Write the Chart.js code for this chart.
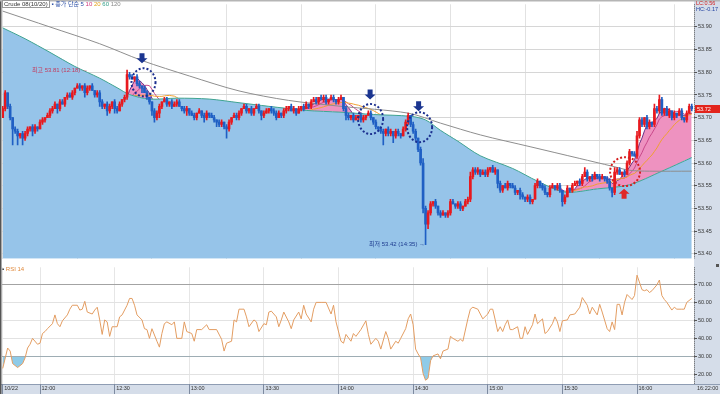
<!DOCTYPE html>
<html>
<head>
<meta charset="utf-8">
<script src="https://cdn.jsdelivr.net/npm/chart.js@4.4.0/dist/chart.umd.min.js"></script>
<style>
html,body{margin:0;padding:0;background:#fff;}
#wrap{position:relative;width:720px;height:394px;overflow:hidden;background:#fff;}
canvas{position:absolute;left:0;}
#cp{top:0;}
#cr{top:263px;}
.t{position:absolute;white-space:nowrap;font-family:"Liberation Sans","Noto Sans CJK KR",sans-serif;line-height:1;}
</style>
</head>
<body>
<div id="wrap">
<canvas id="cp" width="720" height="263"></canvas>
<canvas id="cr" width="720" height="131"></canvas>
<div class="t" style="left:2px;top:1px;font-size:6px;color:#333;">
<span style="border:1px solid #9a9a9a;padding:0 1px;background:#fff;">Crude 08(10/20)</span>
<span style="color:#2b4fa6;">&#9642; 종가 단순</span>
<span style="color:#2b4fa6;">5</span>
<span style="color:#d0357c;">10</span>
<span style="color:#e3a21a;">20</span>
<span style="color:#2f9e86;">60</span>
<span style="color:#8a8a8a;">120</span>
</div>
<div class="t" style="left:696px;top:1px;font-size:5.5px;color:#d02020;">LC:0.56</div>
<div class="t" style="left:696px;top:7px;font-size:5.5px;color:#2040a0;">HC:-0.17</div>
<div class="t" id="tag" style="left:695px;width:25px;height:8px;background:#e2241c;color:#fff;font-size:5.5px;line-height:8px;padding-left:2px;box-sizing:border-box;">53.72</div>
<div class="t" id="hiNote" style="font-size:6px;color:#c23a5c;">최고 53.81 (12:18) →</div>
<div class="t" id="loNote" style="font-size:6px;color:#1c3a8e;">최저 53.42 (14:35) →</div>
<div class="t" style="left:2px;top:266px;font-size:6px;color:#e0893c;"><span style="color:#444;">&#9642;</span> RSI 14</div>
<div class="t" style="left:697px;top:386px;font-size:5.5px;color:#333;">16:22:00</div>
<div style="position:absolute;left:716px;top:264px;width:3px;height:3px;background:#555;"></div>
</div>
<script>
// ---------------- DATA ----------------
// x = minutes from the first candle (11:45); one candle per minute
const timeTicks  = [0, 15, 45, 75, 105, 135, 165, 195, 225, 255];
const timeLabels = ['10/22','12:00','12:30','13:00','13:30','14:00','14:30','15:00','15:30','16:00'];
const priceTicks = [53.40,53.45,53.50,53.55,53.60,53.65,53.70,53.75,53.80,53.85,53.90];
const rsiTicks   = [20,30,40,50,60,70];
const firstOpen  = 53.70;
const lastPrice  = 53.72;

const closes = [
53.72,53.755,53.725,53.70,53.675,53.67,53.66,53.665,53.655,53.665,
53.675,53.68,53.67,53.68,53.675,53.69,53.695,53.70,53.705,53.715,
53.72,53.73,53.72,53.735,53.73,53.745,53.75,53.745,53.755,53.765,
53.77,53.765,53.77,53.755,53.765,53.77,53.76,53.75,53.755,53.735,
53.725,53.73,53.715,53.725,53.735,53.72,53.715,53.73,53.74,53.745,
53.795,53.79,53.785,53.79,53.775,53.77,53.765,53.755,53.745,53.735,
53.715,53.70,53.71,53.725,53.735,53.74,53.73,53.735,53.725,53.73,
53.735,53.725,53.72,53.715,53.72,53.71,53.705,53.70,53.71,53.715,
53.705,53.70,53.71,53.705,53.70,53.695,53.69,53.685,53.69,53.68,
53.675,53.69,53.70,53.705,53.70,53.71,53.72,53.725,53.715,53.72,
53.71,53.72,53.725,53.715,53.705,53.71,53.715,53.72,53.715,53.71,
53.70,53.71,53.705,53.715,53.72,53.725,53.715,53.72,53.71,53.72,
53.725,53.72,53.73,53.725,53.735,53.74,53.735,53.745,53.74,53.745,
53.735,53.74,53.745,53.74,53.735,53.74,53.745,53.72,53.705,53.70,
53.705,53.695,53.70,53.705,53.695,53.70,53.705,53.71,53.70,53.69,
53.68,53.675,53.67,53.665,53.675,53.665,53.67,53.66,53.67,53.665,
53.66,53.675,53.69,53.705,53.685,53.67,53.655,53.63,53.60,53.50,
53.465,53.49,53.51,53.515,53.505,53.49,53.485,53.49,53.485,53.49,
53.515,53.51,53.505,53.51,53.50,53.505,53.515,53.52,53.57,53.585,
53.58,53.585,53.575,53.58,53.575,53.585,53.59,53.58,53.585,53.555,
53.54,53.55,53.545,53.555,53.55,53.545,53.535,53.54,53.53,53.525,
53.52,53.525,53.515,53.52,53.55,53.56,53.55,53.545,53.535,53.53,
53.545,53.55,53.545,53.55,53.54,53.515,53.525,53.545,53.54,53.55,
53.555,53.56,53.555,53.57,53.58,53.565,53.57,53.565,53.575,53.57,
53.565,53.57,53.565,53.56,53.545,53.535,53.58,53.585,53.575,53.58,
53.575,53.60,53.625,53.62,53.615,53.66,53.695,53.685,53.70,53.68,
53.69,53.685,53.72,53.715,53.74,53.71,53.72,53.705,53.715,53.70,
53.71,53.705,53.715,53.70,53.695,53.71,53.725,53.72
];
// wick lengths beyond the body, in 0.005 steps
const upperWick = [
1,1,0,1,0,1,1,0,1,1, 1,0,1,1,0,1,1,0,1,1, 1,1,0,1,1,0,1,1,1,0, 1,1,0,1,1,0,1,0,1,1,
1,0,1,1,0,1,1,1,0,1, 2,1,1,0,1,1,0,1,1,0, 0,1,1,1,0,1,1,0,1,1, 1,1,0,1,1,0,1,1,0,1,
0,1,1,0,1,1,0,1,1,0, 1,1,0,1,1,1,0,1,1,0, 1,0,1,1,0,1,1,0,1,1, 1,1,0,1,1,0,1,1,0,1,
0,1,1,0,1,1,1,0,1,1, 1,0,1,1,0,1,1,0,1,1, 0,1,1,0,1,1,0,1,1,0, 1,0,1,1,0,1,1,0,1,1,
0,1,1,1,0,1,1,0,1,2, 1,1,1,0,1,0,1,1,0,1, 1,1,0,1,1,0,1,1,2,1, 1,1,0,1,1,1,0,1,1,0,
1,0,1,1,0,1,1,0,1,1, 0,1,1,0,1,1,0,1,1,0, 1,1,0,1,1,0,1,1,0,1, 1,0,1,1,2,1,0,1,1,0,
1,1,0,1,1,0,2,1,1,0, 1,1,1,0,1,2,1,1,0,1, 1,0,2,1,2,1,0,1,1,0, 1,0,1,1,0,1,1,1
];
const lowerWick = [
0,1,1,1,7,1,4,1,3,1, 1,1,2,1,1,0,1,1,0,1, 1,0,2,1,0,1,1,0,1,1, 0,1,1,2,1,1,0,1,1,2,
1,1,2,1,1,2,1,0,1,1, 1,1,0,1,1,1,2,0,1,1, 2,2,1,2,1,0,1,1,1,0, 1,0,1,1,2,1,0,1,1,0,
1,2,1,1,0,1,2,1,1,1, 4,1,1,0,1,1,1,0,1,1, 1,1,0,1,2,1,0,1,1,1, 1,0,1,1,1,1,0,1,1,0,
1,1,0,1,1,0,1,1,0,1, 1,1,0,1,1,1,0,1,2,1, 1,1,0,1,1,1,1,0,1,1, 1,1,1,5,1,1,1,3,1,1,
1,0,1,1,1,1,1,1,1,2, 9,2,1,1,1,1,1,0,1,1, 1,0,1,1,1,1,0,1,1,1, 1,1,1,0,1,1,1,0,1,2,
1,1,0,1,1,0,1,1,2,1, 1,1,1,1,0,1,1,1,1,1, 1,0,1,1,1,2,1,0,1,1, 0,1,1,1,0,1,1,1,0,1,
1,0,1,1,1,2,1,1,0,1, 1,0,1,1,0,1,1,1,1,1, 1,1,1,1,1,1,1,0,1,1, 1,1,0,1,1,1,0,1
];
// 60 and 120 moving averages: [minute, price]
const ma60Points = [[0,53.898],[9,53.874],[19,53.844],[29,53.813],[39,53.787],[46,53.766],[51,53.751],[59,53.741],[70,53.743],[83,53.741],[95,53.733],[107,53.725],[122,53.716],[136,53.712],[149,53.707],[164,53.703],[170,53.695],[176,53.672],[183,53.648],[192,53.616],[205,53.588],[215,53.560],[226,53.536],[239,53.543],[252,53.552],[265,53.582],[277,53.612]];
const ma120Points = [[0,53.935],[19,53.900],[39,53.863],[56,53.826],[75,53.792],[95,53.759],[115,53.738],[136,53.725],[163,53.710],[176,53.688],[192,53.662],[212,53.636],[232,53.610],[245,53.593],[252,53.584],[260,53.582],[277,53.582]];
// RSI 14: [minute, value]
const rsiPoints = [[0,23.3],[2,34.7],[3,33.0],[4,26.0],[6,23.8],[8,26.0],[9,29.2],[10,34.7],[11,36.8],[12,40.1],[14,36.8],[15,37.4],[16,42.8],[17,43.9],[18,45.5],[20,48.3],[21,53.2],[22,48.3],[23,46.6],[24,49.9],[26,53.2],[27,56.4],[28,58.6],[30,58.6],[31,55.9],[32,56.4],[33,60.8],[34,54.8],[36,53.7],[37,55.9],[38,57.5],[39,50.4],[40,42.3],[41,50.4],[42,49.3],[43,41.2],[44,46.6],[45,46.6],[46,46.6],[47,52.1],[48,53.2],[50,58.6],[51,62.4],[52,62.4],[53,58.6],[54,53.2],[56,50.4],[57,45.5],[58,45.0],[59,40.1],[60,45.5],[62,38.5],[63,35.2],[64,42.8],[65,48.3],[66,49.3],[68,47.7],[69,49.3],[70,40.1],[72,40.1],[73,49.3],[74,43.9],[76,42.8],[77,38.5],[78,45.0],[80,45.0],[82,47.7],[83,45.0],[86,45.0],[88,39.6],[89,33.0],[90,37.4],[92,38.5],[93,50.4],[94,49.3],[95,56.4],[97,56.4],[98,52.1],[99,46.6],[101,50.4],[102,49.3],[103,43.9],[105,48.3],[106,47.7],[107,54.8],[108,55.3],[110,52.1],[111,46.6],[112,50.4],[113,54.8],[115,49.3],[116,45.5],[117,50.4],[119,54.8],[120,51.0],[121,58.6],[122,53.7],[124,49.3],[125,56.4],[126,60.2],[128,60.2],[130,60.2],[132,53.7],[133,58.6],[134,49.3],[136,38.5],[137,37.4],[138,42.3],[140,38.5],[141,42.8],[142,41.2],[144,45.0],[146,49.9],[147,42.3],[148,36.8],[150,40.1],[151,38.5],[152,34.1],[154,43.9],[155,40.1],[156,34.1],[158,38.5],[159,37.4],[160,40.1],[162,45.5],[163,51.0],[164,53.7],[165,47.7],[166,34.1],[167,31.4],[168,29.2],[169,20.5],[170,16.7],[171,17.8],[172,27.6],[173,30.3],[175,31.4],[176,28.7],[177,33.0],[179,34.1],[180,41.2],[181,40.1],[183,38.5],[184,39.6],[185,38.5],[187,51.0],[188,56.4],[189,57.5],[191,56.4],[192,53.7],[193,51.0],[195,53.7],[196,56.4],[197,56.4],[198,50.4],[199,43.9],[200,46.6],[201,43.9],[202,47.7],[203,50.4],[204,45.0],[205,45.0],[207,46.6],[208,40.1],[209,40.1],[210,46.6],[211,42.3],[213,47.7],[214,53.7],[215,48.3],[217,51.0],[218,42.8],[219,43.9],[221,48.3],[222,52.1],[223,49.3],[224,43.9],[225,49.9],[227,50.4],[228,53.2],[230,53.7],[232,57.5],[233,62.9],[235,58.6],[236,53.7],[237,57.5],[239,53.2],[240,59.1],[241,54.8],[243,45.5],[244,43.9],[245,49.3],[246,45.0],[247,59.1],[248,59.1],[249,53.2],[250,60.2],[251,64.6],[253,61.8],[254,64.0],[255,75.4],[257,67.3],[258,66.7],[259,67.3],[260,65.7],[261,66.7],[263,70.0],[264,72.7],[265,64.0],[266,61.8],[267,60.2],[269,55.9],[270,57.5],[271,56.4],[273,56.4],[274,56.4],[275,60.2],[277,62.4]];

// annotation anchors in data units
const circles = [{t:56.6,p:53.778,rx:12,ry:14,c:'#1b2f8f'},{t:147.9,p:53.697,rx:12.5,ry:15,c:'#1b2f8f'},{t:167.6,p:53.679,rx:12.5,ry:15,c:'#1b2f8f'},{t:250.2,p:53.581,rx:15,ry:14.5,c:'#d42020'}];
const arrows = [{t:56.0,p:53.820,dir:'down',c:'#1b3590'},{t:147.7,p:53.740,dir:'down',c:'#1b3590'},{t:167.2,p:53.714,dir:'down',c:'#1b3590'},{t:249.8,p:53.543,dir:'up',c:'#e02828'}];
const hiAnchor = {t:34.3, p:53.805};
const loAnchor = {t:169.8, p:53.4215};

// ------------- derived series -------------
const opens = closes.map((c,i)=> i===0 ? firstOpen : closes[i-1]);
const UP='#e8191e', DOWN='#1f5fc4';
const candleColors = closes.map((c,i)=> c>=opens[i] ? UP : DOWN);
const bodyData = closes.map((c,i)=>({x:i, y:[opens[i], c]}));
const wickData = closes.map((c,i)=>({x:i, y:[Math.min(opens[i],c)-lowerWick[i]*0.005, Math.max(opens[i],c)+upperWick[i]*0.005]}));
function sma(n){ const out=[]; for(let i=n-1;i<closes.length;i++){ let s=0; for(let k=i-n+1;k<=i;k++) s+=closes[k]; out.push({x:i,y:s/n}); } return out; }
const toXY = arr => arr.map(([x,y])=>({x,y}));

const X_MIN=-0.28, X_MAX=277.91;
const FONT={family:'Liberation Sans', size:5.5};

const bgPlugin = {
  id:'bg',
  beforeDraw(chart, args, opts){
    const {ctx, chartArea:a, width, height} = chart;
    ctx.save();
    ctx.fillStyle='#d5dde9';
    ctx.fillRect(a.right, 0, width-a.right, height);
    if (opts.band){ ctx.fillRect(0, a.bottom, width, height-a.bottom); ctx.fillStyle='#8f9db3'; ctx.fillRect(0, a.bottom, width, 1); }
    ctx.restore();
  },
  afterDraw(chart, args, opts){
    const {ctx, height, width, chartArea:a} = chart;
    ctx.save();
    ctx.fillStyle='#555'; ctx.fillRect(0,0,1.5,height);
    if (opts.top){ ctx.fillStyle='#b5b5b5'; ctx.fillRect(0,0,width,1.5); }
    // dotted axis line
    ctx.strokeStyle='#555'; ctx.lineWidth=1; ctx.setLineDash([1,1]);
    ctx.beginPath(); ctx.moveTo(a.right+0.5, a.top); ctx.lineTo(a.right+0.5, a.bottom); ctx.stroke();
    ctx.restore();
  }
};
const annoPlugin = {
  id:'anno',
  afterDatasetsDraw(chart){
    const {ctx, scales:{x,y}} = chart;
    ctx.save();
    ctx.lineWidth=2; ctx.setLineDash([2,2]);
    circles.forEach(c=>{ ctx.strokeStyle=c.c; ctx.beginPath(); ctx.ellipse(x.getPixelForValue(c.t), y.getPixelForValue(c.p), c.rx, c.ry, 0, 0, Math.PI*2); ctx.stroke(); });
    ctx.setLineDash([]);
    arrows.forEach(a=>{
      const px=x.getPixelForValue(a.t), py=y.getPixelForValue(a.p), s = a.dir==='down' ? -1 : 1;
      ctx.fillStyle=a.c; ctx.beginPath();
      ctx.moveTo(px,py); ctx.lineTo(px-5.5,py+5*s); ctx.lineTo(px-2.5,py+5*s); ctx.lineTo(px-2.5,py+10*s);
      ctx.lineTo(px+2.5,py+10*s); ctx.lineTo(px+2.5,py+5*s); ctx.lineTo(px+5.5,py+5*s); ctx.closePath(); ctx.fill();
    });
    ctx.restore();
  }
};

const priceChart = new Chart(document.getElementById('cp'), {
  type:'line',
  data:{datasets:[
    {type:'bar', label:'body', data:bodyData, backgroundColor:candleColors, barThickness:2, grouped:false, minBarLength:1, borderWidth:0, order:0},
    {type:'bar', label:'wick', data:wickData, backgroundColor:candleColors, barThickness:1, grouped:false, borderWidth:0, order:1},
    {label:'120', data:toXY(ma120Points), borderColor:'#8e8e8e', borderWidth:1, pointRadius:0, tension:0.3, fill:false, order:2},
    {label:'60', data:toXY(ma60Points), borderColor:'#3fa592', borderWidth:1, pointRadius:0, tension:0.3, fill:'start', backgroundColor:'#96c4e9', order:3},
    {label:'20', data:sma(20), borderColor:'#f0a030', borderWidth:1, pointRadius:0, fill:false, order:4},
    {label:'10', data:sma(10), borderColor:'#c9488a', borderWidth:1, pointRadius:0, fill:false, order:5},
    {label:'5', data:sma(5), borderColor:'#6a2f86', borderWidth:1, pointRadius:0, fill:{target:3, above:'#ee92c0', below:'rgba(0,0,0,0)'}, order:6}
  ]},
  options:{
    responsive:false, animation:false, events:[],
    layout:{padding:{left:2, top:3, right:0, bottom:1}, autoPadding:false},
    plugins:{legend:{display:false}, tooltip:{enabled:false}, bg:{top:true}},
    scales:{
      x:{type:'linear', min:X_MIN, max:X_MAX, offset:false,
         afterBuildTicks:s=>{ s.ticks = timeTicks.slice(1).map(v=>({value:v})); },
         ticks:{display:false}, grid:{color:'#e2e2e2', drawTicks:false}, border:{display:false},
         afterFit:s=>{ s.height=0; }},
      y:{position:'right', min:53.389, max:53.95,
         afterBuildTicks:s=>{ s.ticks = priceTicks.map(v=>({value:v})); },
         ticks:{font:FONT, color:'#333', padding:1, callback:v=>Number(v).toFixed(2)},
         grid:{color:'#d6d6d6', tickLength:3, tickColor:'#555'},
         border:{display:false},
         afterFit:s=>{ s.width=26; }}
    }
  },
  plugins:[bgPlugin, annoPlugin]
});

const rsiChart = new Chart(document.getElementById('cr'), {
  type:'line',
  data:{datasets:[
    {label:'RSI 14', data:toXY(rsiPoints), borderColor:'#e39d62', borderWidth:1, pointRadius:0, tension:0,
     fill:{target:{value:30}, above:'rgba(0,0,0,0)', below:'#8fcbe8'}}
  ]},
  options:{
    responsive:false, animation:false, events:[],
    layout:{padding:{left:2, top:1, right:0, bottom:0}, autoPadding:false},
    plugins:{legend:{display:false}, tooltip:{enabled:false}, bg:{band:true}},
    scales:{
      x:{type:'linear', min:X_MIN, max:X_MAX, offset:false,
         afterBuildTicks:s=>{ s.ticks = timeTicks.map(v=>({value:v})); },
         ticks:{font:FONT, color:'#333', align:'start', padding:-9, maxRotation:0, autoSkip:false,
                callback:(v,i)=>' '+timeLabels[i]},
         grid:{color:'#e6e6e6', tickLength:10, tickColor:'#7d8aa0'}, border:{display:false},
         afterFit:s=>{ s.height=10; }},
      y:{position:'right', min:14.6, max:79.8,
         afterBuildTicks:s=>{ s.ticks = rsiTicks.map(v=>({value:v})); },
         ticks:{font:FONT, color:'#333', padding:1, callback:v=>Number(v).toFixed(2)},
         grid:{color:c=> (c.tick && (c.tick.value===70 || c.tick.value===30)) ? '#a3a3a3' : '#e2e2e2', tickLength:3, tickColor:'#555'},
         border:{display:false},
         afterFit:s=>{ s.width=26; }}
    }
  },
  plugins:[bgPlugin]
});

// position html labels from the price scales
(function(){
  const xs = priceChart.scales.x, ys = priceChart.scales.y;
  const tag = document.getElementById('tag');
  tag.style.top = (ys.getPixelForValue(lastPrice)-4)+'px';
  const hi = document.getElementById('hiNote');
  hi.style.left = xs.getPixelForValue(hiAnchor.t)+'px';
  hi.style.top = ys.getPixelForValue(hiAnchor.p)+'px';
  hi.style.transform='translate(-100%,-50%)';
  const lo = document.getElementById('loNote');
  lo.style.left = xs.getPixelForValue(loAnchor.t)+'px';
  lo.style.top = ys.getPixelForValue(loAnchor.p)+'px';
  lo.style.transform='translate(-100%,-50%)';
})();
</script>
</body>
</html>
